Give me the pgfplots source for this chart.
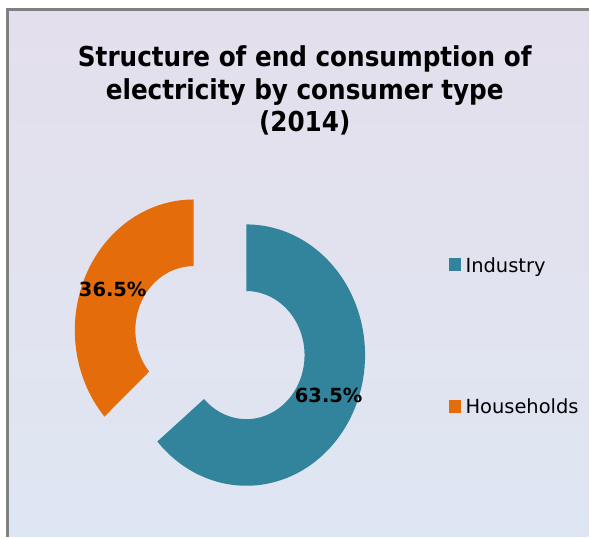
\documentclass[border=0pt]{standalone}
\usepackage{pgfplots}
\usepackage{pgfplotstable}
\pgfplotsset{compat=1.18}
\usepackage{fontspec}
\setmainfont{DejaVu Sans}
\newfontfamily\titlefont{DejaVu Sans Condensed}
\definecolor{industry}{HTML}{31849B}
\definecolor{house}{HTML}{E46C0A}
\definecolor{bgtop}{HTML}{E4DFEC}
\definecolor{bgbot}{HTML}{DFE6F3}
\definecolor{framegray}{HTML}{808080}

% share (%), slice centre (px)
\pgfplotstableread{
label value cx cy
Industry 63.5 247 356
Households 36.5 194 331
}\slices
\pgfplotstablegetelem{0}{value}\of\slices \let\vInd\pgfplotsretval
\pgfplotstablegetelem{1}{value}\of\slices \let\vHou\pgfplotsretval
\pgfplotstablegetelem{0}{cx}\of\slices \let\cxI\pgfplotsretval
\pgfplotstablegetelem{0}{cy}\of\slices \let\cyI\pgfplotsretval
\pgfplotstablegetelem{1}{cx}\of\slices \let\cxH\pgfplotsretval
\pgfplotstablegetelem{1}{cy}\of\slices \let\cyH\pgfplotsretval
\pgfmathsetmacro\sInd{-3.6*\vInd}
\pgfmathsetmacro\sHou{3.6*\vHou}
\def\rx{119}\def\ry{131}\def\hole{0.49}

\begin{document}
\begin{tikzpicture}
\begin{axis}[scale only axis, width=590pt, height=538pt,
  xmin=0, xmax=590, ymin=0, ymax=538, y dir=reverse,
  hide axis, clip=false]
  \fill[white] (axis cs:0,0) rectangle (axis cs:590,538);
  \shade[top color=bgtop, bottom color=bgbot] (axis cs:8,10) rectangle (axis cs:590,538);
  \draw[framegray, line width=3pt] (axis cs:8,538) -- (axis cs:8,10) -- (axis cs:590,10);

  % Industry slice
  \addplot[fill=industry, draw=none, domain=0:2, samples=241, variable=\t]
   ({\cxI + \rx*ifthenelse(\t<=1,1,\hole)*cos(ifthenelse(\t<=1, 90+\sInd*\t, 90+\sInd*(2-\t)))},
    {\cyI - \ry*ifthenelse(\t<=1,1,\hole)*sin(ifthenelse(\t<=1, 90+\sInd*\t, 90+\sInd*(2-\t)))});
  % Households slice
  \addplot[fill=house, draw=none, domain=0:2, samples=241, variable=\t]
   ({\cxH + \rx*ifthenelse(\t<=1,1,\hole)*cos(ifthenelse(\t<=1, 90+\sHou*\t, 90+\sHou*(2-\t)))},
    {\cyH - \ry*ifthenelse(\t<=1,1,\hole)*sin(ifthenelse(\t<=1, 90+\sHou*\t, 90+\sHou*(2-\t)))});

  % data labels
  \node[font=\bfseries\fontsize{19.5}{22}\selectfont, inner sep=0] at (axis cs:329.5,396.5) {\vInd\%};
  \node[font=\bfseries\fontsize{19.5}{22}\selectfont, inner sep=0] at (axis cs:113,290.5) {\vHou\%};

  % title
  \node[font=\titlefont\bfseries\fontsize{27.5}{33}\selectfont, anchor=base, inner sep=0] at (axis cs:305.5,67) {Structure of end consumption of};
  \node[font=\titlefont\bfseries\fontsize{27.5}{33}\selectfont, anchor=base, inner sep=0] at (axis cs:305.5,99.5) {electricity by consumer type};
  \node[font=\titlefont\bfseries\fontsize{27.5}{33}\selectfont, anchor=base, inner sep=0] at (axis cs:305.5,132) {(2014)};

  % legend
  \fill[industry] (axis cs:450,259) rectangle (axis cs:462,272);
  \node[font=\fontsize{19.5}{23}\selectfont, anchor=base west, inner sep=0] at (axis cs:466.5,273) {Industry};
  \fill[house] (axis cs:450,401) rectangle (axis cs:462,414);
  \node[font=\fontsize{19.5}{23}\selectfont, anchor=base west, inner sep=0] at (axis cs:466.5,415) {Households};
\end{axis}
\end{tikzpicture}
\end{document}
